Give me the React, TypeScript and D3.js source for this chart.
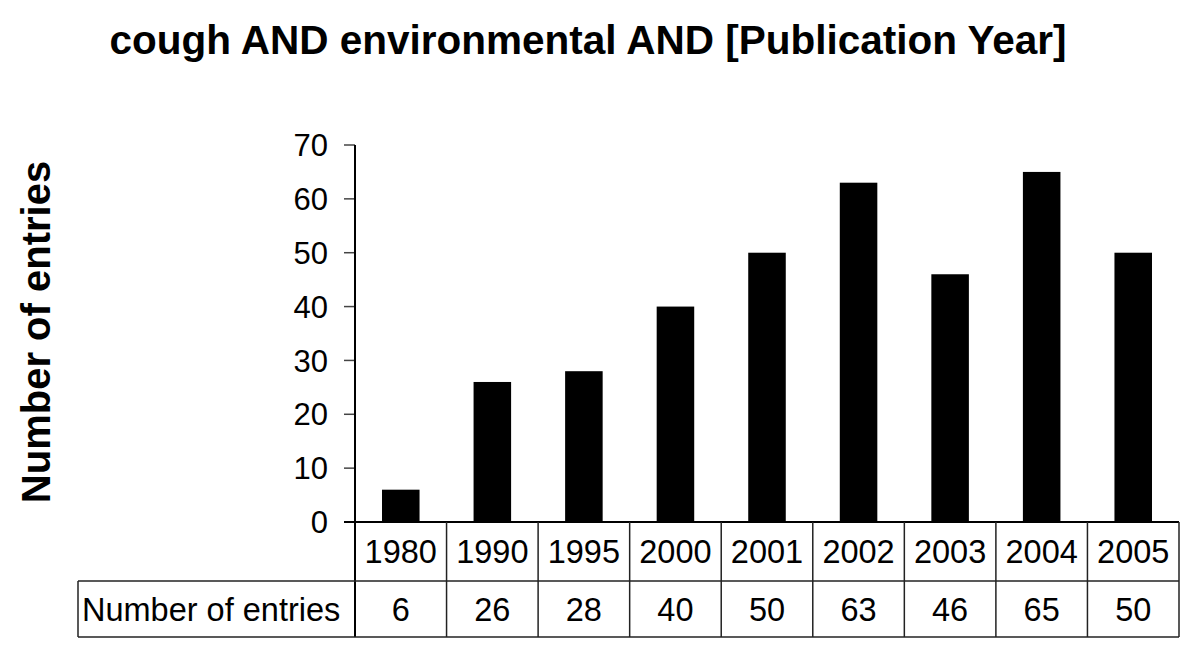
import React from "react";
import * as d3 from "d3";

const years = ["1980", "1990", "1995", "2000", "2001", "2002", "2003", "2004", "2005"];
const entries = [6, 26, 28, 40, 50, 63, 46, 65, 50];
const yTicks = [0, 10, 20, 30, 40, 50, 60, 70];
const title = "cough AND environmental AND [Publication Year]";
const yLabel = "Number of entries";
const rowLabel = "Number of entries";

const W = 1200;
const H = 659;
const plotLeft = 355;
const plotRight = 1179;
const plotTop = 145;
const plotBottom = 522;
const row1Bottom = 581;
const row2Bottom = 637;
const tableLeft = 78;
const font = "Arial, 'Liberation Sans', Helvetica, sans-serif";

export default function App() {
  const x = d3
    .scaleBand<string>()
    .domain(years)
    .range([plotLeft, plotRight])
    .paddingInner(0.59)
    .paddingOuter(0.295);
  const col = d3.scaleBand<string>().domain(years).range([plotLeft, plotRight]).padding(0);
  const y = d3.scaleLinear().domain([0, 70]).range([plotBottom, plotTop]);
  const lineColor = "#222";

  return (
    <svg width={W} height={H} style={{ position: "absolute", left: 0, top: 0, background: "#fff" }}>
      <rect x={0} y={0} width={W} height={H} fill="#fff" />
      <text x={588} y={54} textAnchor="middle" fontFamily={font} fontWeight="bold" fontSize={40.5} fill="#000">
        {title}
      </text>
      <text
        transform={`translate(50, ${332})rotate(-90)`}
        textAnchor="middle"
        fontFamily={font}
        fontWeight="bold"
        fontSize={40}
        fill="#000"
      >
        {yLabel}
      </text>

      {/* y ticks */}
      {yTicks.map((t) => (
        <g key={t}>
          <line x1={344} x2={plotLeft} y1={y(t)} y2={y(t)} stroke="#444" strokeWidth={1.5} />
          <text x={328} y={y(t)} dy="0.36em" textAnchor="end" fontFamily={font} fontSize={31} fill="#000">
            {t}
          </text>
        </g>
      ))}
      <line x1={plotLeft} x2={plotLeft} y1={plotTop} y2={row2Bottom} stroke="#000" strokeWidth={2} />

      {/* bars */}
      {years.map((yr, i) => (
        <rect
          key={yr}
          x={x(yr)}
          y={y(entries[i])}
          width={x.bandwidth()}
          height={y(0) - y(entries[i])}
          fill="#000"
        />
      ))}

      {/* table */}
      <line x1={344} x2={plotRight} y1={plotBottom} y2={plotBottom} stroke="#000" strokeWidth={2} />
      <line x1={tableLeft} x2={plotRight} y1={row1Bottom} y2={row1Bottom} stroke={lineColor} strokeWidth={1.5} />
      <line x1={tableLeft} x2={plotRight} y1={row2Bottom} y2={row2Bottom} stroke={lineColor} strokeWidth={1.5} />
      <line x1={tableLeft} x2={tableLeft} y1={row1Bottom} y2={row2Bottom} stroke={lineColor} strokeWidth={1.5} />
      {years.map((yr) => (
        <line
          key={"v" + yr}
          x1={(col(yr) as number) + col.bandwidth()}
          x2={(col(yr) as number) + col.bandwidth()}
          y1={plotBottom}
          y2={row2Bottom}
          stroke={lineColor}
          strokeWidth={1.5}
        />
      ))}
      {years.map((yr, i) => (
        <g key={"t" + yr}>
          <text
            x={(col(yr) as number) + col.bandwidth() / 2}
            y={(plotBottom + row1Bottom) / 2}
            dy="0.36em"
            textAnchor="middle"
            fontFamily={font}
            fontSize={32.5}
            fill="#000"
          >
            {yr}
          </text>
          <text
            x={(col(yr) as number) + col.bandwidth() / 2}
            y={(row1Bottom + row2Bottom) / 2}
            dy="0.36em"
            textAnchor="middle"
            fontFamily={font}
            fontSize={32.5}
            fill="#000"
          >
            {entries[i]}
          </text>
        </g>
      ))}
      <text x={82} y={(row1Bottom + row2Bottom) / 2} dy="0.36em" fontFamily={font} fontSize={32.5} fill="#000">
        {rowLabel}
      </text>
    </svg>
  );
}
